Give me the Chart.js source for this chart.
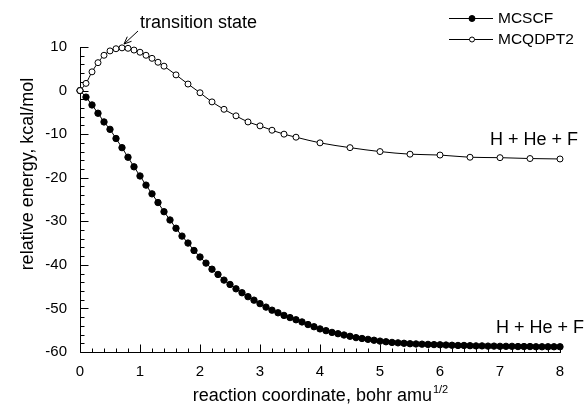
<!DOCTYPE html>
<html>
<head>
<meta charset="utf-8">
<script src="https://cdn.jsdelivr.net/npm/chart.js@4.4.0/dist/chart.umd.min.js"></script>
<style>
  html, body { margin: 0; padding: 0; background: #fff; }
  #wrap { width: 586px; height: 407px; }
</style>
</head>
<body>
<div id="wrap"><canvas id="energyChart"></canvas></div>
<script>
// reaction coordinate (bohr amu^1/2) and relative energy (kcal/mol)
const coordMCSCF = [
  0, 0.1, 0.2, 0.3, 0.4, 0.5, 0.6, 0.7, 0.8, 0.9,
  1.0, 1.1, 1.2, 1.3, 1.4, 1.5, 1.6, 1.7, 1.8, 1.9,
  2.0, 2.1, 2.2, 2.3, 2.4, 2.5, 2.6, 2.7, 2.8, 2.9,
  3.0, 3.1, 3.2, 3.3, 3.4, 3.5, 3.6, 3.7, 3.8, 3.9,
  4.0, 4.1, 4.2, 4.3, 4.4, 4.5, 4.6, 4.7, 4.8, 4.9,
  5.0, 5.1, 5.2, 5.3, 5.4, 5.5, 5.6, 5.7, 5.8, 5.9,
  6.0, 6.1, 6.2, 6.3, 6.4, 6.5, 6.6, 6.7, 6.8, 6.9,
  7.0, 7.1, 7.2, 7.3, 7.4, 7.5, 7.6, 7.7, 7.8, 7.9,
  8.0
];
const energyMCSCF = [
  0, -1.5, -3.3, -5.2, -7.2, -8.9, -11.0, -13.1, -15.3, -17.5,
  -19.6, -21.7, -23.7, -25.7, -27.8, -29.7, -31.6, -33.4, -35.0, -36.7,
  -38.2, -39.6, -41.0, -42.2, -43.5, -44.5, -45.5, -46.4, -47.3, -48.1,
  -48.9, -49.7, -50.4, -51.0, -51.6, -52.1, -52.6, -53.1, -53.7, -54.2,
  -54.7, -55.1, -55.5, -55.8, -56.1, -56.4, -56.7, -56.9, -57.1, -57.3,
  -57.5, -57.65, -57.8, -57.9, -58.0, -58.1, -58.15, -58.2, -58.25, -58.3,
  -58.35, -58.4, -58.45, -58.5, -58.5, -58.55, -58.6, -58.6, -58.65, -58.65,
  -58.7, -58.7, -58.7, -58.75, -58.75, -58.75, -58.8, -58.8, -58.8, -58.8,
  -58.8
];

const coordMCQDPT2 = [
  0, 0.1, 0.2, 0.3, 0.4, 0.5, 0.6, 0.7, 0.8, 0.9, 1.0, 1.1, 1.2, 1.3, 1.4,
  1.6, 1.8, 2.0, 2.2, 2.4, 2.6, 2.8, 3.0, 3.2, 3.4, 3.6,
  4.0, 4.5, 5.0, 5.5, 6.0, 6.5, 7.0, 7.5, 8.0
];
const energyMCQDPT2 = [
  0, 1.65, 4.3, 6.4, 8.1, 9.1, 9.6, 9.8, 9.7, 9.3, 8.8, 8.1, 7.4, 6.5, 5.6,
  3.6, 1.5, -0.5, -2.6, -4.3, -5.8, -7.2, -8.1, -9.1, -10.0, -10.7,
  -12.0, -13.1, -14.0, -14.6, -14.8, -15.3, -15.4, -15.6, -15.7
];

const xTicks = [0, 1, 2, 3, 4, 5, 6, 7, 8];
const yTicks = [10, 0, -10, -20, -30, -40, -50, -60];

const FONT = '"Liberation Sans", Arial, Helvetica, sans-serif';

// inward ticks, axis lines, labels and legend
const decorations = {
  id: 'decorations',
  beforeDatasetsDraw(chart) {
    const { ctx, chartArea: a, scales: { x, y } } = chart;
    ctx.save();
    ctx.strokeStyle = '#000';
    ctx.lineWidth = 1;
    ctx.beginPath();
    const left = Math.round(a.left) + 0.5;
    const bottom = Math.round(a.bottom) + 0.5;
    ctx.moveTo(left, Math.round(a.top));
    ctx.lineTo(left, bottom);
    ctx.lineTo(Math.round(a.right) + 1, bottom);
    for (let i = 0; i <= 40; i++) {
      const px = Math.round(x.getPixelForValue(i * 0.2)) + 0.5;
      const len = i % 5 === 0 ? 8 : 4;
      ctx.moveTo(px, bottom);
      ctx.lineTo(px, bottom - len);
    }
    for (let i = 0; i <= 35; i++) {
      const py = Math.round(y.getPixelForValue(-60 + i * 2)) + 0.5;
      const len = i % 5 === 0 ? 8 : 4;
      ctx.moveTo(left, py);
      ctx.lineTo(left + len, py);
    }
    ctx.stroke();
    ctx.restore();
  },
  afterDraw(chart) {
    const { ctx, chartArea: a } = chart;
    ctx.save();
    ctx.fillStyle = '#000';
    ctx.strokeStyle = '#000';
    ctx.lineWidth = 1;

    // y axis title
    ctx.save();
    ctx.translate(28, 174);
    ctx.rotate(-Math.PI / 2);
    ctx.font = '18px ' + FONT;
    ctx.textAlign = 'center';
    ctx.textBaseline = 'middle';
    ctx.fillText('relative energy, kcal/mol', 0, 0);
    ctx.restore();

    // x axis title with superscript
    const main = 'reaction coordinate, bohr amu';
    const sup = '1/2';
    ctx.font = '18px ' + FONT;
    const wMain = ctx.measureText(main).width;
    ctx.font = '11px ' + FONT;
    const wSup = ctx.measureText(sup).width;
    const x0 = (a.left + a.right) / 2 - (wMain + wSup) / 2;
    ctx.textAlign = 'left';
    ctx.textBaseline = 'alphabetic';
    ctx.font = '18px ' + FONT;
    ctx.fillText(main, x0, 401);
    ctx.font = '11px ' + FONT;
    ctx.fillText(sup, x0 + wMain + 1, 393);

    // annotations
    ctx.font = '18px ' + FONT;
    ctx.fillText('transition state', 140, 28);
    ctx.fillText('H + He + F', 490, 145);
    ctx.fillText('H + He + F', 496, 333);

    // arrow to the transition state
    ctx.beginPath();
    ctx.moveTo(138, 31);
    ctx.lineTo(124, 44);
    const ang = Math.atan2(44 - 31, 124 - 138);
    const hl = 8;
    ctx.moveTo(124, 44);
    ctx.lineTo(124 - hl * Math.cos(ang - 0.4), 44 - hl * Math.sin(ang - 0.4));
    ctx.moveTo(124, 44);
    ctx.lineTo(124 - hl * Math.cos(ang + 0.4), 44 - hl * Math.sin(ang + 0.4));
    ctx.stroke();

    // legend
    ctx.font = '15.5px ' + FONT;
    ctx.textBaseline = 'middle';
    const rows = [
      { label: 'MCSCF', y: 18.5, fill: '#000', r: 3 },
      { label: 'MCQDPT2', y: 39.5, fill: '#fff', r: 2.5 }
    ];
    rows.forEach(row => {
      ctx.beginPath();
      ctx.moveTo(449, row.y);
      ctx.lineTo(493, row.y);
      ctx.stroke();
      ctx.beginPath();
      ctx.arc(472, row.y, row.r, 0, Math.PI * 2);
      ctx.fillStyle = row.fill;
      ctx.fill();
      ctx.stroke();
      ctx.fillStyle = '#000';
      ctx.fillText(row.label, 498, row.y);
    });
    ctx.restore();
  }
};

new Chart(document.getElementById('energyChart'), {
  type: 'scatter',
  data: {
    datasets: [
      {
        label: 'MCSCF',
        data: coordMCSCF.map((c, i) => ({ x: c, y: energyMCSCF[i] })),
        showLine: true,
        borderColor: '#000',
        borderWidth: 1,
        pointRadius: 3.2,
        pointBackgroundColor: '#000',
        pointBorderColor: '#000',
        pointBorderWidth: 1,
        clip: false,
        order: 1
      },
      {
        label: 'MCQDPT2',
        data: coordMCQDPT2.map((c, i) => ({ x: c, y: energyMCQDPT2[i] })),
        showLine: true,
        borderColor: '#000',
        borderWidth: 1,
        cubicInterpolationMode: 'monotone',
        pointRadius: 3,
        pointBackgroundColor: '#fff',
        pointBorderColor: '#000',
        pointBorderWidth: 1,
        clip: false,
        order: 0
      }
    ]
  },
  options: {
    responsive: true,
    maintainAspectRatio: false,
    animation: false,
    devicePixelRatio: 1,
    layout: { padding: { left: 0, right: 26, top: 47, bottom: 0 } },
    plugins: { legend: { display: false }, tooltip: { enabled: false } },
    scales: {
      x: {
        type: 'linear',
        min: 0,
        max: 8,
        afterBuildTicks: s => { s.ticks = xTicks.map(v => ({ value: v })); },
        afterFit: s => { s.height = 55; },
        grid: { display: false, drawTicks: false },
        border: { display: false },
        ticks: { color: '#000', font: { family: FONT, size: 15 }, padding: 11, maxRotation: 0 }
      },
      y: {
        type: 'linear',
        min: -60,
        max: 10,
        afterBuildTicks: s => { s.ticks = yTicks.map(v => ({ value: v })); },
        afterFit: s => { s.width = 80; },
        grid: { display: false, drawTicks: false },
        border: { display: false },
        ticks: { color: '#000', font: { family: FONT, size: 15 }, padding: 13 }
      }
    }
  },
  plugins: [decorations]
});
</script>
</body>
</html>
